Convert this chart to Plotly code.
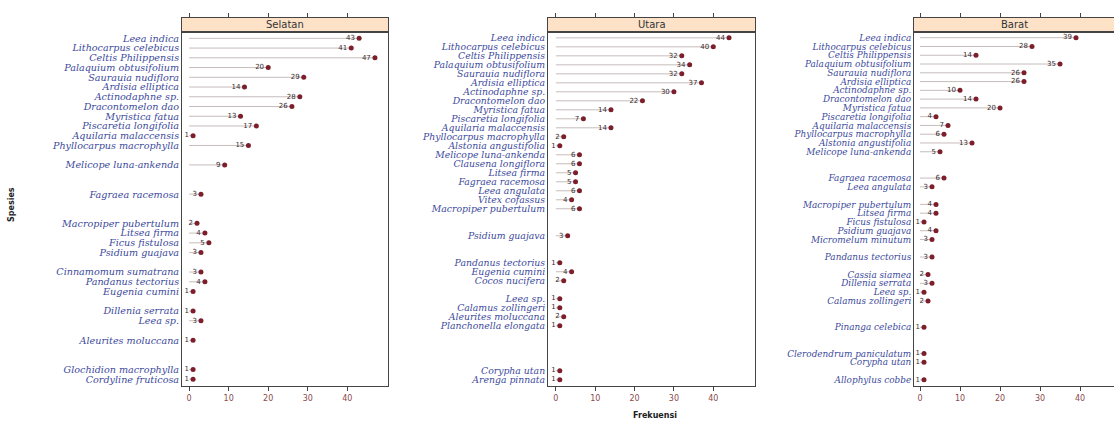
import plotly.graph_objects as go

# ---- data: species, frequency and row order for each region ----
selatan_spesies = [
    "Leea indica", "Lithocarpus celebicus", "Celtis Philippensis", "Palaquium obtusifolium",
    "Saurauia nudiflora", "Ardisia elliptica", "Actinodaphne sp.", "Dracontomelon dao",
    "Myristica fatua", "Piscaretia longifolia", "Aquilaria malaccensis", "Phyllocarpus macrophylla",
    "Melicope luna-ankenda", "Fagraea racemosa", "Macropiper pubertulum", "Litsea firma",
    "Ficus fistulosa", "Psidium guajava", "Cinnamomum sumatrana", "Pandanus tectorius",
    "Eugenia cumini", "Dillenia serrata", "Leea sp.", "Aleurites moluccana",
    "Glochidion macrophylla", "Cordyline fruticosa",
]
selatan_frekuensi = [43, 41, 47, 20, 29, 14, 28, 26, 13, 17, 1, 15, 9, 3, 2, 4, 5, 3, 3, 4, 1, 1, 3, 1, 1, 1]
selatan_urutan = [0, 1, 2, 3, 4, 5, 6, 7, 8, 9, 10, 11, 13, 16, 19, 20, 21, 22, 24, 25, 26, 28, 29, 31, 34, 35]

utara_spesies = [
    "Leea indica", "Lithocarpus celebicus", "Celtis Philippensis", "Palaquium obtusifolium",
    "Saurauia nudiflora", "Ardisia elliptica", "Actinodaphne sp.", "Dracontomelon dao",
    "Myristica fatua", "Piscaretia longifolia", "Aquilaria malaccensis", "Phyllocarpus macrophylla",
    "Alstonia angustifolia", "Melicope luna-ankenda", "Clausena longiflora", "Litsea firma",
    "Fagraea racemosa", "Leea angulata", "Vitex cofassus", "Macropiper pubertulum",
    "Psidium guajava", "Pandanus tectorius", "Eugenia cumini", "Cocos nucifera",
    "Leea sp.", "Calamus zollingeri", "Aleurites moluccana", "Planchonella elongata",
    "Corypha utan", "Arenga pinnata",
]
utara_frekuensi = [44, 40, 32, 34, 32, 37, 30, 22, 14, 7, 14, 2, 1, 6, 6, 5, 5, 6, 4, 6, 3, 1, 4, 2, 1, 1, 2, 1, 1, 1]
utara_urutan = [0, 1, 2, 3, 4, 5, 6, 7, 8, 9, 10, 11, 12, 13, 14, 15, 16, 17, 18, 19, 22, 25, 26, 27, 29, 30, 31, 32, 37, 38]

barat_spesies = [
    "Leea indica", "Lithocarpus celebicus", "Celtis Philippensis", "Palaquium obtusifolium",
    "Saurauia nudiflora", "Ardisia elliptica", "Actinodaphne sp.", "Dracontomelon dao",
    "Myristica fatua", "Piscaretia longifolia", "Aquilaria malaccensis", "Phyllocarpus macrophylla",
    "Alstonia angustifolia", "Melicope luna-ankenda", "Fagraea racemosa", "Leea angulata",
    "Macropiper pubertulum", "Litsea firma", "Ficus fistulosa", "Psidium guajava",
    "Micromelum minutum", "Pandanus tectorius", "Cassia siamea", "Dillenia serrata",
    "Leea sp.", "Calamus zollingeri", "Pinanga celebica", "Clerodendrum paniculatum",
    "Corypha utan", "Allophylus cobbe",
]
barat_frekuensi = [39, 28, 14, 35, 26, 26, 10, 14, 20, 4, 7, 6, 13, 5, 6, 3, 4, 4, 1, 4, 3, 3, 2, 3, 1, 2, 1, 1, 1, 1]
barat_urutan = [0, 1, 2, 3, 4, 5, 6, 7, 8, 9, 10, 11, 12, 13, 16, 17, 19, 20, 21, 22, 23, 25, 27, 28, 29, 30, 33, 36, 37, 39]

wilayah = ["Selatan", "Utara", "Barat"]
x_ticks = [0, 10, 20, 30, 40]

panels = [
    (selatan_spesies, selatan_frekuensi, selatan_urutan),
    (utara_spesies, utara_frekuensi, utara_urutan),
    (barat_spesies, barat_frekuensi, barat_urutan),
]

# ---- layout geometry (figure is 1114 x 423 px) ----
W, H = 1114, 423
panel_px = [(182, 388, [-1.8, 50.3]), (548, 755, [-2.0, 50.6]), (914, 1114, [-1.5, 48.5])]
label_size = [9.6, 9.3, 8.9]
plot_top_px, plot_bot_px, strip_top_px = 32, 386, 18
y_dom = [1 - plot_bot_px / H, 1 - plot_top_px / H]
strip_dom = [y_dom[1], 1 - strip_top_px / H]

STEM = "#c7bcbc"
DOT = "#7d1f2a"
LABEL_BLUE = "#3c4a9c"
AXIS = "#444444"
TICK_RED = "#8a4b4b"
STRIP = "#fde2c8"


def ax_id(letter, n):
    return letter if n == 1 else f"{letter}{n}"


def ax_key(letter, n):
    return f"{letter}axis" if n == 1 else f"{letter}axis{n}"


fig = go.Figure()
layout = dict(
    width=W, height=H, autosize=False,
    margin=dict(l=0, r=0, t=0, b=0),
    paper_bgcolor="white", plot_bgcolor="white",
    showlegend=False,
    shapes=[], annotations=[],
)

for i, ((spesies, frek, urut), nama) in enumerate(zip(panels, wilayah), start=1):
    xa, ya = ax_id("x", i), ax_id("y", i)
    xs, ys = ax_id("x", i + 3), ax_id("y", i + 3)   # strip subplot above the panel
    last = i == len(panels)

    # stems from zero to the frequency
    sx, sy = [], []
    for v, r in zip(frek, urut):
        sx += [0, v, None]
        sy += [r, r, None]
    fig.add_trace(go.Scatter(x=sx, y=sy, mode="lines", xaxis=xa, yaxis=ya,
                             line=dict(color=STEM, width=1), hoverinfo="skip"))
    # dots with their value written just to the left
    fig.add_trace(go.Scatter(x=frek, y=urut, mode="markers+text", xaxis=xa, yaxis=ya,
                             text=[str(v) for v in frek], textposition="middle left",
                             textfont=dict(size=7, color="#3a2a2a", family="DejaVu Sans"),
                             marker=dict(size=5, color=DOT)))
    # strip subplot: carries the panel name and the top tick marks
    fig.add_trace(go.Scatter(x=[0], y=[0], mode="markers", xaxis=xs, yaxis=ys,
                             marker=dict(opacity=0), hoverinfo="skip"))

    x0p, x1p, xr = panel_px[i - 1]
    n_rows = max(urut)
    layout[ax_key("x", i)] = dict(
        domain=[x0p / W, x1p / W], range=xr, anchor=ya,
        tickvals=x_ticks, ticks="outside", ticklen=4, tickcolor=AXIS,
        tickfont=dict(size=8, color=TICK_RED, family="DejaVu Sans"),
        showline=True, linecolor=AXIS, linewidth=1, mirror=True,
        showgrid=False, zeroline=False,
    )
    layout[ax_key("y", i)] = dict(
        domain=y_dom, range=[n_rows + 0.7, -0.65], anchor=xa,
        tickvals=urut, ticktext=[f"<i>{s}</i>" for s in spesies],
        tickfont=dict(size=label_size[i - 1], color=LABEL_BLUE, family="DejaVu Serif"),
        ticks="", showline=True, linecolor=AXIS, linewidth=1,
        mirror=False if last else True,
        showgrid=False, zeroline=False,
    )
    layout[ax_key("x", i + 3)] = dict(
        domain=[x0p / W, x1p / W], range=xr, anchor=ys, side="top",
        tickvals=x_ticks, ticks="outside", ticklen=4, tickcolor=AXIS,
        showticklabels=False, showline=True, linecolor=AXIS, linewidth=1,
        mirror=True, showgrid=False, zeroline=False, fixedrange=True,
    )
    layout[ax_key("y", i + 3)] = dict(
        domain=strip_dom, range=[-1, 1], anchor=xs,
        showticklabels=False, ticks="", showline=True, linecolor=AXIS, linewidth=1,
        mirror=False if last else True, showgrid=False, zeroline=False, fixedrange=True,
    )

    # peach fill of the strip
    layout["shapes"].append(dict(
        type="rect", xref=f"{xs} domain", yref=f"{ys} domain",
        x0=0, x1=1, y0=0, y1=1,
        fillcolor=STRIP, line=dict(width=0), layer="below",
    ))
    layout["annotations"].append(dict(
        text=nama, xref=f"{xs} domain", yref=f"{ys} domain",
        x=0.5, y=0.5, showarrow=False,
        xanchor="center", yanchor="middle",
        font=dict(size=10, color="#333333", family="DejaVu Sans"),
    ))

# axis titles
layout["annotations"].append(dict(
    text="<b>Spesies</b>", xref="paper", yref="paper", x=12 / W, y=1 - 205 / H,
    textangle=-90, showarrow=False, xanchor="center", yanchor="middle",
    font=dict(size=8, color="#222222", family="DejaVu Sans"),
))
layout["annotations"].append(dict(
    text="<b>Frekuensi</b>", xref="paper", yref="paper", x=655 / W, y=1 - 415 / H,
    showarrow=False, xanchor="center", yanchor="middle",
    font=dict(size=8, color="#222222", family="DejaVu Sans"),
))

fig.update_layout(**layout)
fig.write_html("out.html")
